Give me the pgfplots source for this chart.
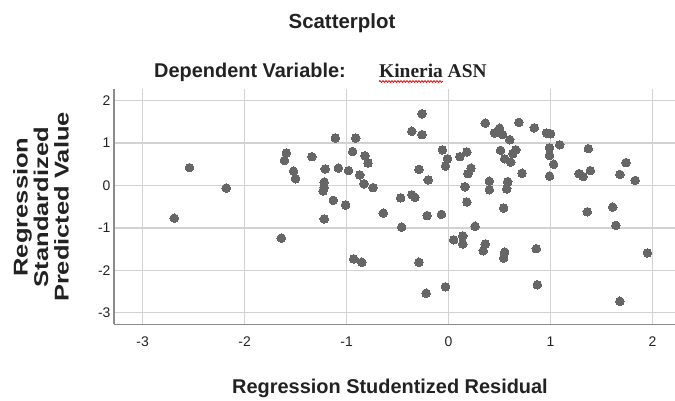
\documentclass[border=0pt]{standalone}
\usepackage{pgfplots}
\pgfplotsset{compat=1.18}
\usepackage{pgfplotstable}
\usepackage{fontspec}
\setmainfont{Liberation Sans}
\newfontfamily\timesf{Liberation Serif}
\usetikzlibrary{decorations.pathmorphing}
\definecolor{dotc}{HTML}{666666}
\definecolor{gridc}{HTML}{D2D2D2}
\definecolor{axc}{HTML}{8C8C8C}
\definecolor{txt}{HTML}{222222}
\pgfplotstableread{
x y
-2.54 0.42
-2.18 -0.06
-2.69 -0.77
-1.64 -1.24
-1.59 0.77
-1.61 0.59
-1.52 0.34
-1.50 0.16
-1.34 0.68
-1.21 0.39
-1.11 1.12
-1.22 0.08
-1.22 -0.04
-1.23 -0.13
-1.13 -0.35
-1.22 -0.79
-1.08 0.41
-0.98 0.35
-1.01 -0.46
-0.91 1.12
-0.94 0.80
-0.82 0.70
-0.79 0.53
-0.87 0.25
-0.83 0.04
-0.74 -0.05
-0.93 -1.73
-0.85 -1.81
-0.64 -0.65
-0.26 1.69
-0.36 1.28
-0.26 1.20
-0.06 0.84
-0.01 0.63
-0.03 0.46
-0.29 0.38
-0.20 0.13
-0.47 -0.29
-0.36 -0.22
-0.33 -0.28
-0.46 -0.98
-0.21 -0.71
-0.07 -0.68
-0.29 -1.81
-0.22 -2.54
-0.03 -2.39
0.05 -1.28
0.14 -1.19
0.14 -1.38
0.26 -0.96
0.36 -1.38
0.34 -1.54
0.55 -1.57
0.54 -1.71
0.86 -1.49
0.87 -2.34
0.54 -0.53
0.18 -0.39
0.16 -0.03
0.19 0.28
0.22 0.41
0.11 0.68
0.18 0.79
0.40 0.10
0.40 -0.10
0.58 0.09
0.57 -0.08
0.36 1.47
0.45 1.24
0.50 1.35
0.53 1.20
0.60 1.08
0.51 0.83
0.55 0.63
0.61 0.55
0.63 0.75
0.66 0.84
0.72 0.29
0.69 1.49
0.84 1.36
0.96 1.24
1.00 1.22
0.99 0.89
0.99 0.71
1.03 0.50
0.99 0.22
1.09 0.96
1.37 0.87
1.28 0.28
1.32 0.21
1.39 0.35
1.36 -0.62
1.68 0.26
1.74 0.54
1.83 0.12
1.61 -0.51
1.64 -0.94
1.95 -1.59
1.68 -2.73
}\datatable
\begin{document}
\begin{tikzpicture}
\useasboundingbox (0,0) rectangle (675bp,-401bp);
\begin{axis}[
  at={(114bp,-324.3bp)}, anchor=south west,
  scale only axis, width=561bp, height=235.3bp,
  xmin=-3.28, xmax=2.22, ymin=-3.274, ymax=2.276,
  axis lines*=left,
  axis line style={draw=axc, line width=1.4bp},
  xtick={-3,-2,-1,0,1,2}, ytick={-3,-2,-1,0,1,2},
  xticklabels={-3,-2,-1,0,1,2}, yticklabels={-3,-2,-1,0,1,2},
  major tick length=0pt,
  grid=major, major grid style={draw=gridc, line width=1.3bp},
  tick label style={font=\fontsize{14}{16}\selectfont, text=txt},
  xticklabel style={yshift=-9bp},
]
\addplot[only marks, mark=*, mark size=4.3bp, mark options={fill=dotc, draw=dotc, line width=0pt}] table[x=x, y=y] {\datatable};
\end{axis}
\node[anchor=base, text=txt, font=\bfseries\fontsize{20.5}{24}\selectfont] at (342bp,-28bp) {Scatterplot};
\node[anchor=base west, inner sep=0pt, text=txt, font=\bfseries\fontsize{20}{24}\selectfont] at (154bp,-77bp) {Dependent Variable:};
\node[anchor=base west, inner sep=0pt, text=txt, font=\timesf\bfseries\fontsize{19.5}{23}\selectfont] at (379bp,-77bp) {Kineria ASN};
\draw[red, line width=0.8bp, decorate, decoration={snake, amplitude=0.9bp, segment length=3bp}] (379bp,-81.5bp) -- (443bp,-81.5bp);
\node[anchor=base, text=txt, font=\bfseries\fontsize{20}{24}\selectfont] at (390bp,-393bp) {Regression Studentized Residual};
\node[anchor=base, rotate=90, xscale=1.28, text=txt, font=\bfseries\fontsize{20}{24}\selectfont] at (27.5bp,-207bp) {Regression};
\node[anchor=base, rotate=90, xscale=1.28, text=txt, font=\bfseries\fontsize{20}{24}\selectfont] at (48bp,-207bp) {Standardized};
\node[anchor=base, rotate=90, xscale=1.28, text=txt, font=\bfseries\fontsize{20}{24}\selectfont] at (68.5bp,-207bp) {Predicted Value};
\end{tikzpicture}
\end{document}
